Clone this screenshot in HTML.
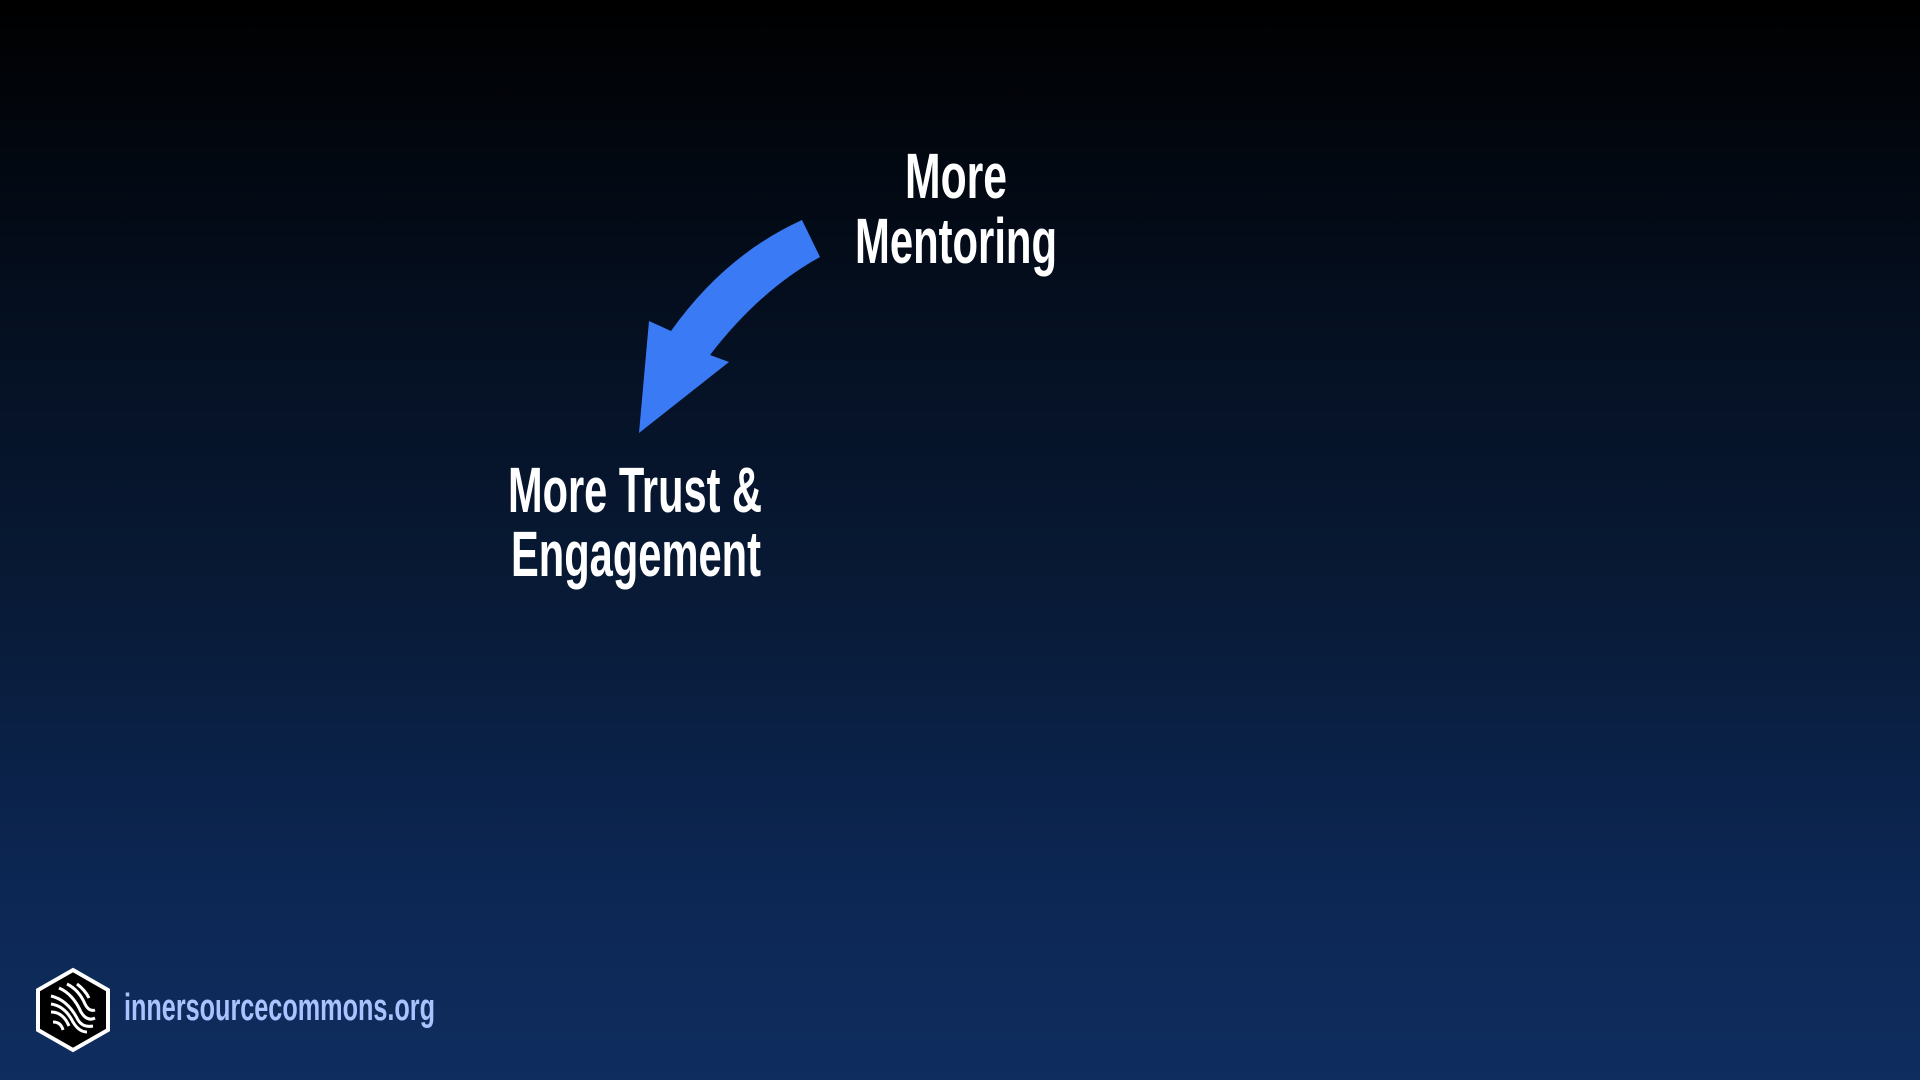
<!DOCTYPE html>
<html><head><meta charset="utf-8"><style>
html,body{margin:0;padding:0;width:1920px;height:1080px;overflow:hidden}
body{background:linear-gradient(180deg,#000000 0%,#040d1c 25%,#081a36 55%,#0c2652 80%,#0f2d5f 100%)}
svg{position:absolute;left:0;top:0}
text{font-family:"Liberation Sans Narrow","Liberation Sans",sans-serif;font-weight:bold;fill:#fff}
</style></head><body>
<svg width="1920" height="1080" viewBox="0 0 1920 1080">
<path d="M802,220 L820,257 Q760,290 710,355 L729,362 L639,433 L649,321 L671,331 Q725,255 802,220 Z" fill="#3a7bf5"/>
<text x="956" y="198" font-size="64" text-anchor="middle" textLength="102" lengthAdjust="spacingAndGlyphs">More</text>
<text x="956" y="263" font-size="64" text-anchor="middle" textLength="202" lengthAdjust="spacingAndGlyphs">Mentoring</text>
<text x="635" y="512" font-size="64" text-anchor="middle" textLength="254" lengthAdjust="spacingAndGlyphs">More Trust &amp;</text>
<text x="636" y="576" font-size="64" text-anchor="middle" textLength="250" lengthAdjust="spacingAndGlyphs">Engagement</text>
<g transform="translate(73,1010)">
<polygon points="0,-40 35,-20 35,20 0,40 -35,20 -35,-20" fill="#000" stroke="#fff" stroke-width="4"/>
<g stroke="#fff" stroke-width="3" fill="none">
<path d="M-22,-14 Q-5,-10 5,10 Q10,18 20,16"/>
<path d="M-22,-6 Q-8,-4 0,12 Q6,22 14,22"/>
<path d="M-22,2 Q-10,2 -4,16"/>
<path d="M-20,12 Q-12,12 -10,20"/>
<path d="M-14,-22 Q0,-16 8,2 Q14,12 22,8"/>
<path d="M-6,-26 Q6,-20 12,-6 Q16,2 22,0"/>
<path d="M4,-26 Q12,-20 16,-12"/>
</g>
</g>
<text x="124" y="1020" font-size="38" textLength="311" lengthAdjust="spacingAndGlyphs" style="fill:#a8c3ff">innersourcecommons.org</text>
</svg>
</body></html>
